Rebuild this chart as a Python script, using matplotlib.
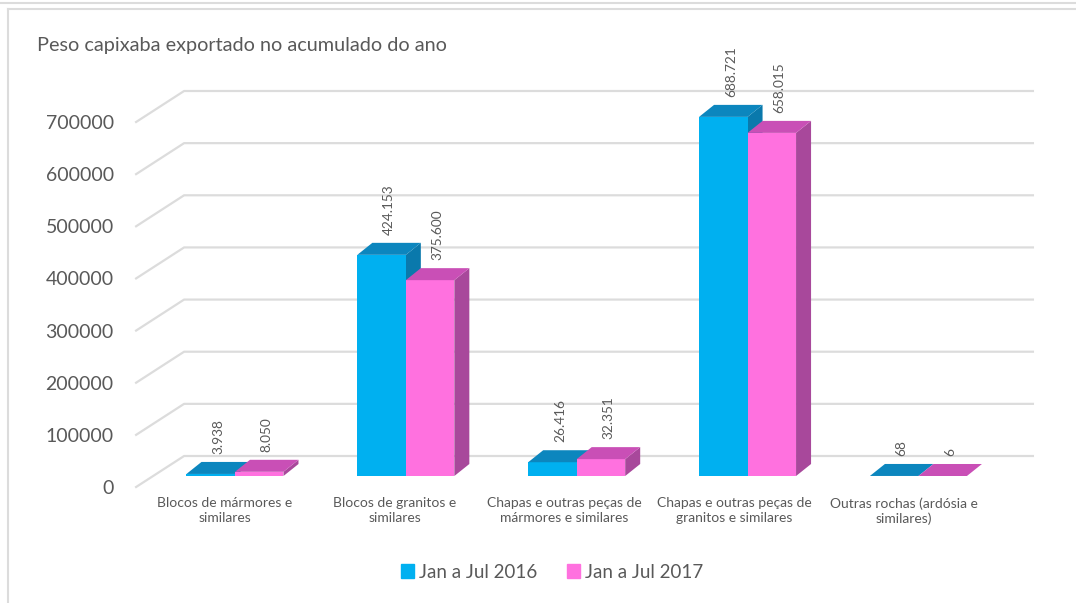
import numpy as np
import matplotlib
matplotlib.use("Agg")
import matplotlib.pyplot as plt
from matplotlib.patches import Polygon
from matplotlib.lines import Line2D
import matplotlib.transforms as mtransforms

plt.rcParams['font.family'] = ['Lato', 'DejaVu Sans']

# Data
categories = ["Blocos de mármores e\nsimilares",
              "Blocos de granitos e\nsimilares",
              "Chapas e outras peças de\nmármores e similares",
              "Chapas e outras peças de\ngranitos e similares",
              "Outras rochas (ardósia e\nsimilares)"]
series_names = ["Jan a Jul 2016", "Jan a Jul 2017"]
values_2016 = [3938, 424153, 26416, 688721, 68]
values_2017 = [8050, 375600, 32351, 658015, 6]
yticks = [0, 100000, 200000, 300000, 400000, 500000, 600000, 700000]

# Colours (front, top, side)
blue = ("#00B0F0", "#0C86BE", "#0A79AC")
pink = ("#FF71DF", "#C94FB6", "#A8489B")
text_col = "#595959"
grid_col = "#DCDCDC"

W, H = 1076, 603
fig = plt.figure(figsize=(W / 100, H / 100), dpi=100)

# axes = front plane of the 3D box
px_left, px_right = 140.1, 988.9
px_zero, px_top = 487, 122
ax = fig.add_axes([px_left / W, 1 - px_zero / H,
                   (px_right - px_left) / W, (px_zero - px_top) / H])
ax.set_xlim(-0.5, 4.5)
ax.set_ylim(0, 700000)

# pixel -> data conversion
cx_px = (px_right - px_left) / 5.0
cy_px = 700000 / (px_zero - px_top)
def dx(p):
    return p / cx_px
def dy(p):
    return p * cy_px

# back wall gridlines
wall_dx, wall_dy = dx(44), dy(31)
x0 = -0.5 - dx(4)
for v in yticks:
    ax.add_line(Line2D([x0, -0.5 + wall_dx, 4.5 + wall_dx],
                       [v, v + wall_dy, v + wall_dy],
                       color=grid_col, lw=1.6, clip_on=False, zorder=1))

# bars
bw = dx(48.5)
ddx, ddy = dx(15), dy(12)
base = dy(11)
gap = dy(8)

def draw_bar(left, value, cols):
    right = left + bw
    top = base + value
    ax.add_patch(Polygon([(right, base), (right + ddx, base + ddy),
                          (right + ddx, top + ddy), (right, top)],
                         closed=True, facecolor=cols[2], edgecolor='none',
                         clip_on=False, zorder=3))
    ax.bar(left, value, width=bw, bottom=base, align='edge', color=cols[0],
           edgecolor='none', clip_on=False, zorder=3)
    ax.add_patch(Polygon([(left, top), (right, top),
                          (right + ddx, top + ddy), (left + ddx, top + ddy)],
                         closed=True, facecolor=cols[1], edgecolor='none',
                         clip_on=False, zorder=3))
    ax.text(left + bw / 2 + ddx / 2, top + ddy + gap,
            f"{value:,}".replace(",", "."), rotation=90, ha='center',
            va='bottom', fontsize=9.8, color=text_col, zorder=5)

for i in range(len(categories)):
    c = i + dx(10 + 1.1 * i)
    draw_bar(c - bw, values_2016[i], blue)
    draw_bar(c, values_2017[i], pink)

# axes styling
for s in ax.spines.values():
    s.set_visible(False)
ax.patch.set_alpha(0)
ax.set_yticks(yticks)
ax.set_yticklabels([str(v) for v in yticks], fontsize=14, color=text_col)
ax.tick_params(axis='y', length=0, pad=19)
ax.set_xticks([])

# category labels, centred line by line
lab_tr = mtransforms.offset_copy(ax.get_xaxis_transform(), fig=fig, x=0, y=-10, units='dots')
for i, cat in enumerate(categories):
    ax.text(i, 0, cat, transform=lab_tr, ha='center', va='top',
            multialignment='center', fontsize=10, color=text_col,
            linespacing=1.3)

# title
fig.text(37 / W, 1 - 51 / H, "Peso capixaba exportado no acumulado do ano",
         fontsize=14.3, color=text_col, va='baseline', ha='left')

# legend
handles = [plt.Rectangle((0, 0), 1, 1, color=blue[0]),
           plt.Rectangle((0, 0), 1, 1, color=pink[0])]
leg = fig.legend(handles, series_names, loc='center', ncol=2,
                 bbox_to_anchor=(552 / W, 1 - 572 / H), frameon=False,
                 fontsize=13.5, handlelength=0.7, handleheight=0.7,
                 handletextpad=0.25, columnspacing=1.6)
for t in leg.get_texts():
    t.set_color(text_col)

# chart frame
fig.add_artist(Line2D([0, 1], [1 - 2.5 / H, 1 - 2.5 / H], color=grid_col, lw=1.5))
fig.add_artist(Line2D([7.5 / W, 1], [1 - 9 / H, 1 - 9 / H], color=grid_col, lw=1.5))
fig.add_artist(Line2D([7.5 / W, 7.5 / W], [0, 1 - 9 / H], color=grid_col, lw=1.5))

fig.savefig("out.png", dpi=100)
